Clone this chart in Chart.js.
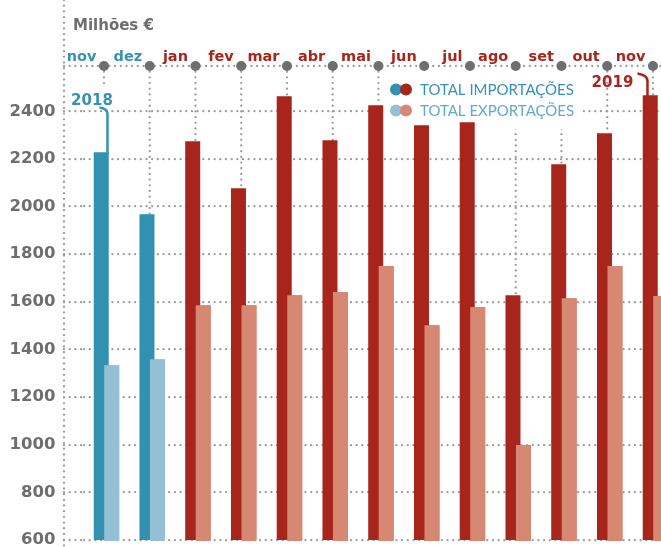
<!DOCTYPE html>
<html>
<head>
<meta charset="utf-8">
<script src="https://cdn.jsdelivr.net/npm/chart.js@4/dist/chart.umd.min.js"></script>
<style>
html,body{margin:0;padding:0;background:#fff;overflow:hidden;width:661px;height:547px}
#wrap{width:661px;height:547px;overflow:hidden;position:relative}
canvas{display:block}
</style>
</head>
<body>
<div id="wrap"><canvas id="c" width="700" height="547"></canvas></div>
<script>
// ---- data ----
const months = ['nov','dez','jan','fev','mar','abr','mai','jun','jul','ago','set','out','nov'];
const years  = ['2018','2018','2019','2019','2019','2019','2019','2019','2019','2019','2019','2019','2019'];
const importacoes = [2228, 1968, 2274, 2077, 2463, 2278, 2425, 2341, 2354, 1628, 2178, 2308, 2467];
const exportacoes = [1334, 1359, 1586, 1586, 1628, 1641, 1750, 1502, 1578, 999, 1615, 1750, 1624];
const yTickValues = [600, 800, 1000, 1200, 1400, 1600, 1800, 2000, 2200, 2400];
const seriesLabels = ['TOTAL IMPORTAÇÕES', 'TOTAL EXPORTAÇÕES'];
const unitLabel = 'Milhões €';

// ---- styles ----
const COLORS = {
  '2018': {imp: '#3191b1', exp: '#94c0d5', text: '#3592b2'},
  '2019': {imp: '#a8251c', exp: '#d68872', text: '#a8251c'}
};
const GRID = '#9c9c9c';
const DARK = '#6d6e71';
const DOT_DASH = [0.01, 5.67];
const DOT_W = 2.3;

const deco = {
  id: 'deco',
  beforeDraw(chart) { chart.ctx.lineCap = 'round'; },
  beforeDatasetsDraw(chart) {
    const {ctx, chartArea: ca, scales: {x, y}} = chart;
    const axisX = ca.left - chart.options.scales.y.grid.tickLength;
    ctx.save();
    ctx.lineCap = 'round';
    const dotted = (x1, y1, x2, y2) => {
      ctx.beginPath();
      ctx.setLineDash(DOT_DASH);
      ctx.lineWidth = DOT_W;
      ctx.strokeStyle = GRID;
      ctx.moveTo(x1, y1); ctx.lineTo(x2, y2);
      ctx.stroke();
    };
    dotted(axisX, 0, axisX, chart.height);
    dotted(axisX, ca.top, chart.width, ca.top);
    const last = months.length - 1;
    months.forEach((m, i) => {
      const px = x.getPixelForValue(i) - 2.5;
      const barTop = y.getPixelForValue(importacoes[i]);
      const end = (i === 0) ? ca.top + 20 : barTop;
      dotted(px, ca.top, px, end);
    });
    ctx.setLineDash([]);

    // legend box
    ctx.fillStyle = '#fff';
    ctx.fillRect(383, 70, 199, 59);
    const rows = [
      {yy: 89.5, cols: [COLORS['2018'].imp, COLORS['2019'].imp], text: seriesLabels[0], color: '#3592b3'},
      {yy: 110.5, cols: [COLORS['2018'].exp, COLORS['2019'].exp], text: seriesLabels[1], color: '#62aac8'}
    ];
    rows.forEach(r => {
      r.cols.forEach((c, k) => {
        ctx.beginPath();
        ctx.fillStyle = c;
        ctx.arc(396 + k * 10, r.yy, 6, 0, Math.PI * 2);
        ctx.fill();
      });
      ctx.font = '400 15px Lato';
      ctx.fillStyle = r.color;
      ctx.textAlign = 'left';
      ctx.textBaseline = 'middle';
      ctx.fillText(r.text, 420, r.yy + 0.5);
    });

    // big dots on top line
    ctx.fillStyle = DARK;
    months.forEach((m, i) => {
      ctx.beginPath();
      ctx.arc(x.getPixelForValue(i) - 2.5, ca.top, 5, 0, Math.PI * 2);
      ctx.fill();
    });

    // unit label
    ctx.font = 'bold 15px "DejaVu Sans"';
    ctx.fillStyle = DARK;
    ctx.textAlign = 'left';
    ctx.textBaseline = 'alphabetic';
    ctx.fillText(unitLabel, axisX + 9, 30);

    // year annotations
    const c0 = x.getPixelForValue(0);
    const t0 = y.getPixelForValue(importacoes[0]);
    const col0 = COLORS[years[0]].text;
    ctx.fillStyle = col0;
    ctx.textAlign = 'center';
    ctx.fillText(years[0], c0 - 14.5, 105);
    ctx.strokeStyle = col0; ctx.lineWidth = 2.5; ctx.lineCap = 'butt';
    ctx.beginPath();
    ctx.moveTo(c0 - 7, 107.5);
    ctx.quadraticCurveTo(c0 + 1, 108.5, c0 + 1, 114);
    ctx.lineTo(c0 + 1, t0 + 2);
    ctx.stroke();

    const cl = x.getPixelForValue(last);
    const tl = y.getPixelForValue(importacoes[last]);
    const coll = COLORS[years[last]].text;
    ctx.fillStyle = coll;
    ctx.fillText(years[last], cl - 43, 87);
    ctx.strokeStyle = coll;
    ctx.beginPath();
    ctx.moveTo(cl - 18, 73.5);
    ctx.quadraticCurveTo(cl - 8, 75, cl - 8, 81);
    ctx.lineTo(cl - 8, tl + 2);
    ctx.stroke();
    ctx.restore();
  },
  afterDatasetsDraw(chart) {
    // exports drawn over imports, clipped to the plot area
    const {ctx, chartArea: ca} = chart;
    ctx.save();
    ctx.beginPath();
    ctx.rect(ca.left, ca.top, ca.right - ca.left, ca.bottom - ca.top + 1);
    ctx.clip();
    chart.getDatasetMeta(1).data.forEach(el => el.draw(ctx));
    ctx.restore();
  }
};

new Chart(document.getElementById('c'), {
  type: 'bar',
  data: {
    labels: months,
    datasets: [
      {
        label: seriesLabels[0],
        data: importacoes,
        backgroundColor: ctx => COLORS[years[ctx.dataIndex]].imp
      },
      {
        label: seriesLabels[1],
        data: exportacoes,
        backgroundColor: ctx => COLORS[years[ctx.dataIndex]].exp
      }
    ]
  },
  options: {
    responsive: false,
    animation: false,
    categoryPercentage: 0.459,
    barPercentage: 1.4286,
    layout: {padding: {left: 0, top: 0, right: 21.65, bottom: 7}},
    plugins: {legend: {display: false}, tooltip: {enabled: false}},
    scales: {
      x: {
        position: 'top',
        offset: true,
        grid: {display: false, drawTicks: false},
        border: {display: false},
        afterFit: s => { s.height = 66; s.paddingLeft = 0; s.paddingRight = 0; },
        ticks: {
          align: 'end',
          labelOffset: -10,
          padding: 0,
          autoSkip: false,
          maxRotation: 0,
          minRotation: 0,
          color: ctx => COLORS[years[ctx.index]].text,
          font: {family: 'DejaVu Sans', weight: 'bold', size: 14.5}
        }
      },
      y: {
        min: 600,
        max: 2590,
        afterFit: s => { s.width = 83.6; s.paddingTop = 0; s.paddingBottom = 0; },
        afterBuildTicks: s => { s.ticks = yTickValues.map(v => ({value: v})); },
        grid: {
          color: GRID,
          lineWidth: DOT_W,
          drawTicks: true,
          tickLength: 19.6,
          tickColor: GRID,
          tickWidth: DOT_W,
          tickBorderDash: DOT_DASH
        },
        border: {display: false, dash: DOT_DASH},
        ticks: {
          padding: 8.6,
          color: DARK,
          callback: v => String(v),
          font: {family: 'DejaVu Sans', weight: 'bold', size: 16.5}
        }
      }
    }
  },
  plugins: [deco]
});
</script>
</body>
</html>
